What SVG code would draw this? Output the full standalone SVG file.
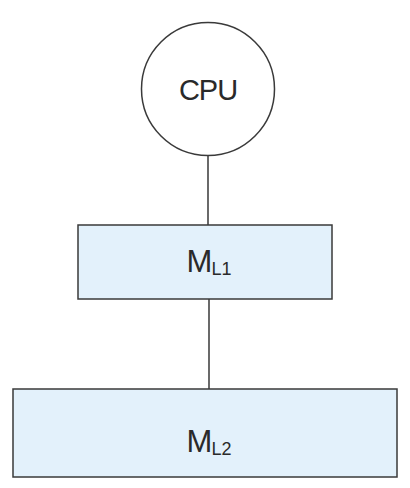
<svg xmlns="http://www.w3.org/2000/svg" width="410" height="488" viewBox="0 0 410 488">
<style>
.n{stroke:#3a3a3a;stroke-width:1.5}
.box{fill:#e3f1fb}
.c{fill:#fff}
.t{font-family:"Liberation Sans",Arial,sans-serif;fill:#2a2a2a;text-anchor:middle}
.e{stroke:#1a1a1a;stroke-width:1.3;fill:none}
</style>
<rect width="410" height="488" fill="#fff"/>
<g id="connectors">
<line class="e" x1="208" y1="155" x2="208" y2="225"/>
<line class="e" x1="209" y1="299" x2="209" y2="389"/>
</g>
<g id="cpu">
<circle class="n c" cx="208" cy="89" r="66.5"/>
<text class="t" x="208" y="100" font-size="29" letter-spacing="-1">CPU</text>
</g>
<g id="ml1">
<rect class="n box" x="78" y="225" width="254" height="74"/>
<text class="t" x="209" y="272" font-size="31" letter-spacing="-1">M<tspan font-size="18" dy="3" letter-spacing="0">L1</tspan></text>
</g>
<g id="ml2">
<rect class="n box" x="13" y="389" width="384" height="88"/>
<text class="t" x="209" y="452" font-size="31" letter-spacing="-1">M<tspan font-size="18" dy="3" letter-spacing="0">L2</tspan></text>
</g>
</svg>
